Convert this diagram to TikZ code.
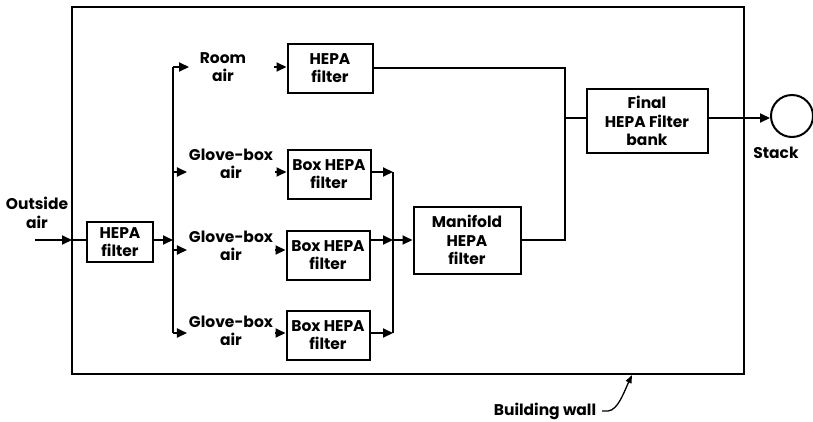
\documentclass[tikz,border=0pt]{standalone}
\usepackage{fontspec}
\setmainfont{Poppins}
\usetikzlibrary{arrows.meta}

\begin{document}
\begin{tikzpicture}[x=1pt, y=-1pt, line width=2pt,
  every node/.style={font=\fontsize{15.5}{18.5}\selectfont\bfseries, align=center, inner sep=1pt},
  filt/.style={draw, minimum width=83pt, minimum height=49pt},
  flow/.style={-{Triangle[length=10pt,width=9pt]}}]
\useasboundingbox (0,0) rectangle (813,421);
% building wall
\draw[line width=1.5pt] (72,7) rectangle (744,374);
% outside air and first filter
\node (outside) at (37,213) {Outside\\air};
\coordinate (oin) at (35,240);
\coordinate (win) at (72,240);
\node[filt, minimum width=66pt, minimum height=40pt] (hepa) at (120,242) {HEPA\\filter};
\draw[flow] (oin) -- (win);
\draw (win) -- (win -| hepa.west);
% supply bus
\coordinate (btop) at (173,67);
\coordinate (bbot) at (173,333);
\draw (btop) -- (bbot);
\draw[flow] (hepa.east |- win) -- (win -| btop);
% air sources
\node[minimum width=66pt] (room) at (223,67) {Room\\air};
\node (gb1) at (231,164) {Glove-box\\air};
\node (gb2) at (231,246) {Glove-box\\air};
\node (gb3) at (231,331) {Glove-box\\air};
\draw[flow] (btop) -- (btop -| room.west);
\draw[flow] (btop |- 0,172) -- (gb1.west |- 0,172);
\draw[flow] (btop |- 0,250) -- (gb2.west |- 0,250);
\draw[flow] (bbot) -- (bbot -| gb3.west);
% filters
\node[filt, minimum width=85pt] (rhepa) at (330,68) {HEPA\\filter};
\node[filt] (bh1) at (329,174) {Box HEPA\\filter};
\node[filt] (bh2) at (328,255) {Box HEPA\\filter};
\node[filt] (bh3) at (328,335) {Box HEPA\\filter};
\draw[flow, shorten <=17pt] (room.east) -- (room.east -| rhepa.west);
\draw[flow] (gb1.east |- 0,172) -- (bh1.west |- 0,172);
\draw[flow] (gb2.east |- 0,250) -- (bh2.west |- 0,250);
\draw[flow] (gb3.east |- bbot) -- (bh3.west |- bbot);
% collecting bus
\coordinate (ctop) at (393,172);
\coordinate (cbot) at (393,333);
\draw (ctop) -- (cbot);
\node[filt, minimum width=107pt, minimum height=67pt] (man) at (467,240) {Manifold\\HEPA\\filter};
\draw[flow] (bh1.east |- ctop) -- (ctop);
\draw[flow] (bh2.east |- man) -- (man -| ctop);
\draw[flow] (man -| ctop) -- (man.west);
\draw[flow] (bh3.east |- cbot) -- (cbot);
% exhaust
\coordinate (ex) at (565,118);
\node[filt, minimum width=121pt, minimum height=64pt] (final) at (647,121) {Final\\HEPA Filter\\bank};
\draw (rhepa.east) -| (ex);
\draw (man.east) -| (ex);
\draw (ex) -- (ex -| final.west);
\node[draw, circle, minimum size=42pt, inner sep=0pt] (stack) at (792,116) {};
\draw[flow] (final.east |- ex) -- (stack.west |- ex);
\node (stacklbl) at (776,153) {Stack};
% caption
\node (wall) at (545,411) {Building wall};
\coordinate (wpt) at (632,375);
\draw[-{Triangle[length=8pt,width=6pt]}, line width=1.3pt, shorten <=4pt] (wall.east) -- ++(10,0) .. controls (618,410) and (624,392) .. (wpt);
\end{tikzpicture}
\end{document}
